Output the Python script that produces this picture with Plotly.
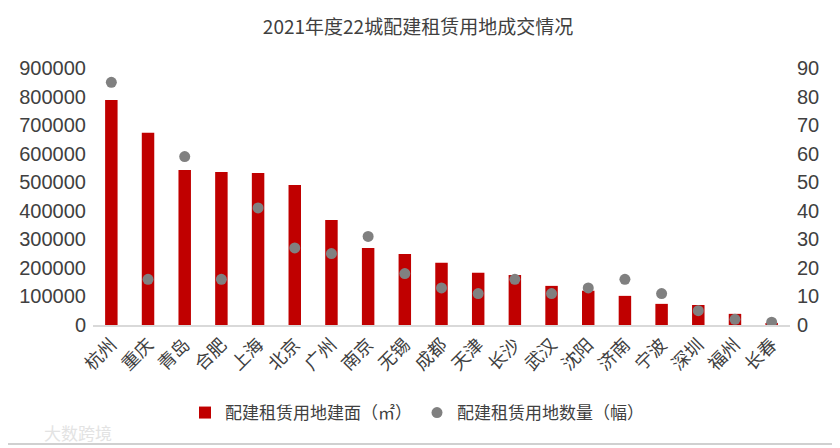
import plotly.graph_objects as go

cities = ["杭州", "重庆", "青岛", "合肥", "上海", "北京", "广州", "南京", "无锡", "成都",
          "天津", "长沙", "武汉", "沈阳", "济南", "宁波", "深圳", "福州", "长春"]
area = [788000, 673000, 543000, 536000, 532000, 490000, 368000, 270000, 249000, 218000,
        183000, 175000, 137000, 120000, 102000, 74000, 70000, 39000, 5000]
count = [85, 16, 59, 16, 41, 27, 25, 31, 18, 13,
         11, 16, 11, 13, 16, 11, 5, 2, 1]
left_ticks = [0, 100000, 200000, 300000, 400000, 500000, 600000, 700000, 800000, 900000]
right_ticks = [0, 10, 20, 30, 40, 50, 60, 70, 80, 90]

FONT = "Noto Sans CJK SC"
NUMFONT = "Liberation Sans"
TXT = "#404040"

# page has an 8px body margin; figure is sized so it fills the window
W, H = 832, 440
L, R, T, B = 85, 50, 60, 123
PW, PH = W - L - R, H - T - B


def px_x(x):
    return (x - L) / PW


def px_y(y):
    return (H - B - y) / PH


fig = go.Figure()
fig.add_trace(go.Bar(
    x=cities, y=area, name="配建租赁用地建面（㎡）",
    marker=dict(color="#C00000", line=dict(width=0)),
    width=0.34,
))
fig.add_trace(go.Scatter(
    x=cities, y=count, name="配建租赁用地数量（幅）", yaxis="y2",
    mode="markers", marker=dict(color="#808080", size=11),
))

fig.update_layout(
    width=W, height=H,
    paper_bgcolor="white", plot_bgcolor="white",
    font=dict(family=FONT, color=TXT, size=16),
    title=dict(text="2021年度22城配建租赁用地成交情况", x=410 / W, xanchor="center",
               y=1 - 19 / H, yanchor="middle", font=dict(size=19, color=TXT, family=FONT)),
    margin=dict(l=L, r=R, t=T, b=B),
    showlegend=True,
    legend=dict(orientation="h", x=px_x(409), xanchor="center", y=px_y(405), yanchor="middle",
                font=dict(size=17, color=TXT), tracegroupgap=0, itemwidth=30),
    xaxis=dict(type="category", range=[-0.5, len(cities) - 0.5], tickangle=-45,
               showline=True, linecolor="#D9D9D9", linewidth=2, ticks="",
               tickfont=dict(size=18, color=TXT), automargin=False),
    yaxis=dict(range=[0, 900000], tickvals=left_ticks, tickformat="d", showgrid=False,
               zeroline=False, ticks="", tickfont=dict(size=20, color=TXT, family=NUMFONT),
               automargin=False, ticklabelstandoff=6),
    yaxis2=dict(range=[0, 90], tickvals=right_ticks, overlaying="y", side="right",
                showgrid=False, zeroline=False, ticks="", automargin=False,
                tickfont=dict(size=20, color=TXT, family=NUMFONT), ticklabelstandoff=6),
    shapes=[
        dict(type="line", xref="paper", yref="paper",
             x0=px_x(W - 2), x1=px_x(W - 2), y0=px_y(0), y1=px_y(H - 4),
             line=dict(color="#D0D0D0", width=2)),
        dict(type="line", xref="paper", yref="paper",
             x0=px_x(0), x1=px_x(W - 2), y0=px_y(H - 4), y1=px_y(H - 4),
             line=dict(color="#D0D0D0", width=2)),
    ],
    annotations=[dict(text="大数跨境", xref="paper", yref="paper",
                      x=px_x(34), y=px_y(424), xanchor="left", yanchor="middle",
                      showarrow=False, font=dict(size=17, color="#E3E3E3"))],
)

fig.write_html("out.html")
